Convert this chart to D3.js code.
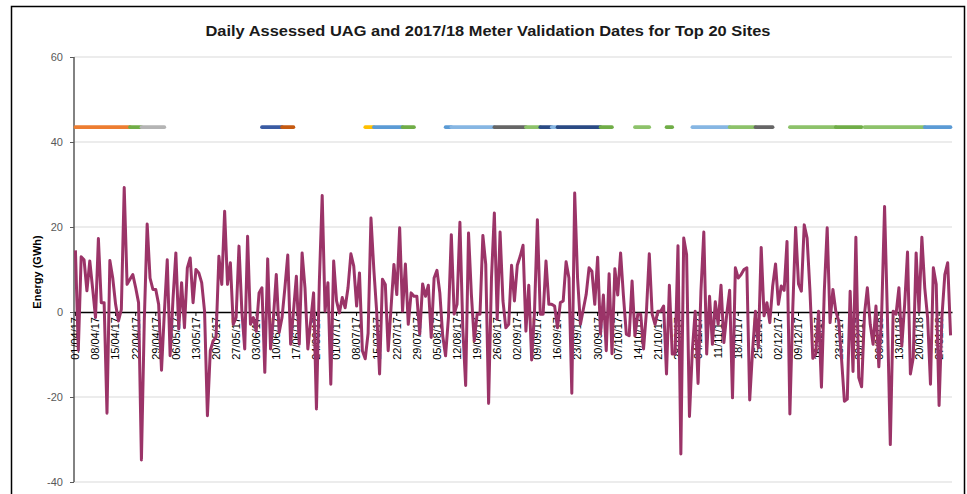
<!DOCTYPE html>
<meta charset="utf-8">
<style>
body {
  margin: 0;
  background: #fff;
  font-family: "Liberation Sans", Arial, sans-serif;
}
.grid line {
  stroke: #d9d9d9;
  stroke-width: 1;
}
.axis--y path {
  stroke: #595959;
  stroke-width: 1.5;
}
.axis--y line {
  stroke: #595959;
}
.axis--y text {
  fill: #595959;
  font-size: 11px;
}
.axis--x text {
  fill: #000;
  font-size: 11px;
}
.uag {
  fill: none;
  stroke: #9b3468;
  stroke-width: 3;
  stroke-linejoin: round;
}
.valid {
  stroke-width: 3.6;
  stroke-linecap: round;
}
</style>
<body>
<svg width="967" height="494"></svg>
<script src="https://cdn.jsdelivr.net/npm/d3@7/dist/d3.min.js"></script>
<script>
// daily assessed UAG (GWh), one array per month
var uagApr = [14.5, -9, 13, 12.3, 5, 12, 5.5, -1.3, 17.3, 2.2, 2.2, -23.8, 12.1, 8, 1.8, -2.1, 0.6, 29.3, 6.5, 7.7,
              8.8, 5.7, 2.2, -34.8, -2, 20.7, 8, 5.3, 5.3, 1.8];
var uagMay = [-13.7, 0, 12.3, -10.3, 3, 13.9, -4, 6.9, -3.7, 10.4, 12.7, 2.2, 10, 9.2, 6.9, 0.2, -24.4, -9.1, -6.8, -6,
              13.1, 6.5, 23.7, 6.5, 11.6, -2.9, -1.3, 15.5, 0.2, -8.7, 17.8];
var uagJun = [-2.9, -1.3, -4.5, 4.5, 5.7, -14.2, 12.5, -8.7, -1.3, 8.8, -4.8, -1.3, 5.7, 13.4, -7.6, 0.2, 8.4, -7.6, 13.9, 5.7,
              -8.7, -2.1, 4.5, -22.8, 6.9, 27.4, 0.2, 6.9, -17, 12];
var uagJul = [2.6, -0.2, 3.4, 1, 5.7, 13.7, 10.8, 1.4, 9.2, -9.1, -11, -5, 22.1, 10, 0, -14.6, 7.7, 6.5, -9.1, 1,
              11.2, 4.1, 19.8, 0.2, 11.3, -2.9, 4.5, 3.7, 3.7, -5.2, 6.6];
var uagAug = [3.7, 6.3, -6, 8, 9.8, 4.5, -5.6, -10.3, -1.3, 18.2, -0.5, 1.8, 21.1, -3.7, -17.3, 18.6, 4.1, -6.8, -0.5, -0.5,
              18, 11.2, -21.5, 8, 23.3, -1.7, 18.8, 2.6, -3.7, -2.9, 11];
var uagSep = [2.6, 11, 13.1, 15.7, -4.5, 6.3, -11.3, 0.2, 21.7, -0.5, -0.5, 12, 1.8, 1.8, 1.4, -3.7, 2.2, 2.6, 11.8, 8,
              -19.1, 28, 8, -2.9, 0.6, 4.1, 10.4, 9.6, 1.8, 12.9];
var uagOct = [-5.2, 4, -9.1, 9, -9.8, 10.2, 4, 13.9, 3.7, -5.2, -5.6, 7.3, -5.6, -0.5, -0.5, -8.7, 0, 13.7, -0.5, -2.9,
              0.2, 0.2, 1.4, -14.6, 6.3, -9.9, -9.9, 15.6, -33.4, 17.4, 13.5];
var uagNov = [-24.6, -9.1, 0.2, -16.8, 4.9, 18.8, -9.9, 3.7, -7.6, 2.4, -2.9, 6.3, -7.2, -0.5, 5.1, -20.2, 10.4, 8, 8.8, 10,
              10.4, -20.7, -9.1, 0.2, -8.4, 15.2, -0.9, 2.2, -2.5, 6.1];
var uagDec = [11.3, 1.8, 6.1, 5.1, 16.6, -24, 0.6, 19.9, 6.6, 4.9, 20.5, 17.4, 4.9, -10.9, -9.9, 0.2, -17.7, 5, 19.8, -2.5,
              5.3, 0.2, -2.1, -11, -21, -20.5, 4.9, -14, 17.6, -15.4, -17.6];
var uagJan = [-0.5, 5.7, -2.9, -7.6, 1.4, -12.9, -0.2, 24.8, -1.3, -31.2, 0.2, -0.5, 5.7, -8, 1.8, 14.1, -14.6, -10.7, 13.9, 0.2,
              17.6, 5.7, -1.3, -17, 10.4, 6.5, -22, -1, 8.8, 11.6, -5.5];

var uag = [].concat(uagApr, uagMay, uagJun, uagJul, uagAug, uagSep, uagOct, uagNov, uagDec, uagJan);

var firstDay = new Date(2017, 3, 1);
var days = d3.timeDay.range(firstDay, d3.timeDay.offset(firstDay, uag.length));
var fmt = d3.timeFormat("%d/%m/%y");
var categories = days.map(fmt);

var tickLabels = ["01/04/17", "08/04/17", "15/04/17", "22/04/17", "29/04/17", "06/05/17", "13/05/17", "20/05/17",
  "27/05/17", "03/06/17", "10/06/17", "17/06/17", "24/06/17", "01/07/17", "08/07/17", "15/07/17", "22/07/17",
  "29/07/17", "05/08/17", "12/08/17", "19/08/17", "26/08/17", "02/09/17", "09/09/17", "16/09/17", "23/09/17",
  "30/09/17", "07/10/17", "14/10/17", "21/10/17", "28/10/17", "04/11/17", "11/11/17", "18/11/17", "25/11/17",
  "02/12/17", "09/12/17", "16/12/17", "23/12/17", "30/12/17", "06/01/18", "13/01/18", "20/01/18", "27/01/18"];
var yTicks = [-40, -20, 0, 20, 40, 60];

// meter validation periods (drawn as flat bars near the top)
var validFrom = ["01/04/17", "20/04/17", "24/04/17", "05/06/17", "12/06/17", "11/07/17", "14/07/17", "24/07/17",
  "08/08/17", "10/08/17", "25/08/17", "05/09/17", "10/09/17", "14/09/17", "16/09/17", "01/10/17", "13/10/17",
  "24/10/17", "02/11/17", "15/11/17", "24/11/17", "06/12/17", "22/12/17", "01/01/18", "22/01/18", "05/09/17"];
var validTo = ["20/04/17", "24/04/17", "02/05/17", "12/06/17", "16/06/17", "14/07/17", "24/07/17", "28/07/17",
  "10/08/17", "25/08/17", "05/09/17", "10/09/17", "14/09/17", "16/09/17", "01/10/17", "05/10/17", "18/10/17",
  "26/10/17", "15/11/17", "24/11/17", "30/11/17", "22/12/17", "31/12/17", "22/01/18", "31/01/18", "06/09/17"];
var validLevel = [43.5, 43.5, 43.5, 43.5, 43.5, 43.5, 43.5, 43.5, 43.5, 43.5, 43.5, 43.5, 43.5, 43.5, 43.5, 43.5,
  43.5, 43.5, 43.5, 43.5, 43.5, 43.5, 43.5, 43.5, 43.5, 1.2];
var validSite = ["s1", "s2", "s3", "s4", "s5", "s6", "s7", "s2", "s7", "s8", "s9", "s10", "s11", "s8", "s11", "s2",
  "s10", "s2", "s8", "s10", "s9", "s10", "s2", "s10", "s7", "s3"];

var siteColour = {
  s1: "#ed7d31", s2: "#70ad47", s3: "#b4b4b4", s4: "#3a5ba3", s5: "#c55a11", s6: "#ffc000",
  s7: "#5b9bd5", s8: "#86b6e3", s9: "#666666", s10: "#8dc26a", s11: "#2a4a84"
};

var svg = d3.select("svg"),
    margin = {top: 57, right: 15, bottom: 12, left: 74},
    width = +svg.attr("width") - margin.left - margin.right,
    height = +svg.attr("height") - margin.top - margin.bottom;

// chart frame
svg.append("rect")
    .attr("x", 11.5).attr("y", 6.5)
    .attr("width", 953).attr("height", 500)
    .attr("fill", "none")
    .attr("stroke", "#000")
    .attr("stroke-width", 1.5);

svg.append("text")
    .attr("x", 488).attr("y", 36)
    .attr("text-anchor", "middle")
    .attr("textLength", 565)
    .attr("lengthAdjust", "spacingAndGlyphs")
    .style("font-size", "15px")
    .style("font-weight", "bold")
    .style("fill", "#1a1a1a")
    .text("Daily Assessed UAG and 2017/18 Meter Validation Dates for Top 20 Sites");

var x = d3.scaleBand().domain(categories).range([0, width]).padding(0),
    y = d3.scaleLinear().domain([-40, 60]).range([height, 0]);
var cx = function(c) { return x(c) + x.bandwidth() / 2; };

var g = svg.append("g")
    .attr("transform", "translate(" + margin.left + "," + margin.top + ")");

g.append("g")
    .attr("class", "grid")
  .selectAll("line")
  .data(yTicks.filter(function(t) { return t !== 0; }))
  .enter().append("line")
    .attr("x1", 0).attr("x2", width)
    .attr("y1", function(d) { return y(d); })
    .attr("y2", function(d) { return y(d); });

// plain hyphen for negatives, like the source
g.append("g")
    .attr("class", "axis axis--y")
    .call(d3.axisLeft(y).tickValues(yTicks).tickFormat(function(d) { return String(d); })
      .tickSize(4).tickPadding(7))
    .call(function(a) { a.select(".domain").attr("d", "M0," + y(60) + "V" + y(-40)); });

// category axis crossing at zero
var xAxis = g.append("g")
    .attr("class", "axis axis--x")
    .attr("transform", "translate(0," + y(0) + ")")
    .call(d3.axisBottom(x).tickValues(tickLabels).tickSize(4).tickSizeOuter(0));
xAxis.select(".domain").attr("stroke", "#000").attr("stroke-width", 1.5);
xAxis.selectAll(".tick line").attr("stroke", "#000");
xAxis.selectAll("text")
    .style("text-anchor", "end")
    .attr("transform", "rotate(-90)")
    .attr("x", -5)
    .attr("y", 0)
    .attr("dy", "0.35em");

svg.append("text")
    .attr("transform", "translate(41,272) rotate(-90)")
    .attr("text-anchor", "middle")
    .style("font-size", "11px")
    .style("font-weight", "bold")
    .style("fill", "#000")
    .text("Energy (GWh)");

// validation bars
g.append("g").selectAll("line")
  .data(validFrom.map(function(f, i) { return {from: f, to: validTo[i], v: validLevel[i], site: validSite[i]}; }))
  .enter().append("line")
    .attr("class", "valid")
    .attr("x1", function(d) { return cx(d.from); })
    .attr("x2", function(d) { return cx(d.to); })
    .attr("y1", function(d) { return y(d.v); })
    .attr("y2", function(d) { return y(d.v); })
    .attr("stroke", function(d) { return siteColour[d.site]; });

var line = d3.line()
    .x(function(d, i) { return cx(categories[i]); })
    .y(function(d) { return y(d); });

g.append("path")
    .datum(uag)
    .attr("class", "uag")
    .attr("d", line);
</script>
</body>
